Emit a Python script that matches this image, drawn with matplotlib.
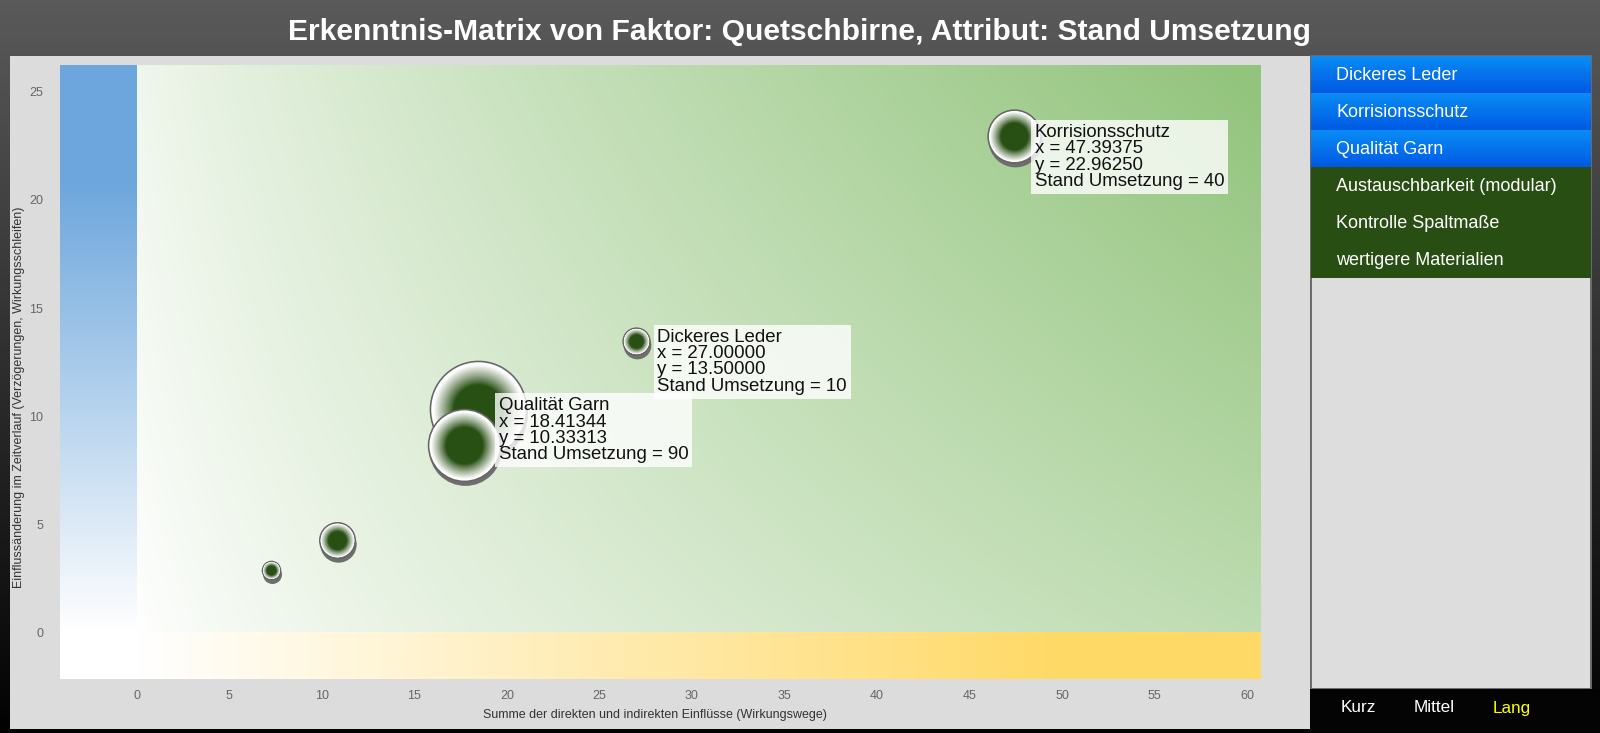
import numpy as np
import matplotlib
matplotlib.use("Agg")
import matplotlib.pyplot as plt
from matplotlib import transforms
from matplotlib.patches import Rectangle

plt.rcParams['font.family'] = ['Liberation Sans', 'DejaVu Sans']

W, H, DPI = 1600, 733, 100
PT = 72.0 / DPI  # pixels -> points

TITLE = "Erkenntnis-Matrix von Faktor: Quetschbirne, Attribut: Stand Umsetzung"
X_LABEL = "Summe der direkten und indirekten Einflüsse (Wirkungswege)"
Y_LABEL = "Einflussänderung im Zeitverlauf (Verzögerungen, Wirkungsschleifen)"
ATTR = "Stand Umsetzung"

# bubble data (series order as in the legend)
names = ["Dickeres Leder", "Korrisionsschutz", "Qualität Garn",
         "Austauschbarkeit (modular)", "Kontrolle Spaltmaße", "wertigere Materialien"]
x_vals = [27.0, 47.39375, 18.41344, 17.70, 10.80, 7.23]
y_vals = [13.5, 22.9625, 10.33313, 8.66, 4.30, 2.89]
z_vals = [10, 40, 90, 62, 20, 0]
labelled = [True, True, True, False, False, False]

x_ticks = [0, 5, 10, 15, 20, 25, 30, 35, 40, 45, 50, 55, 60]
y_ticks = [0, 5, 10, 15, 20, 25]
buttons = ["Kurz", "Mittel", "Lang"]
active_button = "Lang"

GREEN_BG = np.array([146, 196, 124]) / 255
BLUE_BG = np.array([108, 166, 220]) / 255
YELLOW_BG = np.array([255, 217, 102]) / 255
WHITE = np.array([1.0, 1.0, 1.0])
BUBBLE_GREEN = np.array([40, 80, 20]) / 255


def px_left(x):
    return x / W


def px_bottom(y):
    return 1 - y / H


def bubble_radius(z):
    return 9 + 0.434 * z


def draw_bubble(ax, x, y, r):
    shadow = transforms.offset_copy(ax.transData, fig=ax.figure, x=1, y=-4, units='dots')
    ax.scatter([x], [y], s=(2 * (r + 0.5) * PT) ** 2, color='#6e6e6e', lw=0,
               transform=shadow, zorder=3)
    ax.scatter([x], [y], s=(2 * r * PT) ** 2, color='white', edgecolors='#666666',
               linewidths=1.6 * PT, zorder=3)
    for f in np.linspace(0.95, 0.52, 30):
        w = np.clip((f - 0.52) / 0.42, 0, 1) ** 0.9
        c = (1 - w) * BUBBLE_GREEN + w * WHITE
        ax.scatter([x], [y], s=(2 * r * f * PT) ** 2, color=c, lw=0, zorder=3)


fig = plt.figure(figsize=(W / DPI, H / DPI), dpi=DPI)

# page background
bg = fig.add_axes([0, 0, 1, 1])
bg.set_xlim(0, W)
bg.set_ylim(H, 0)
bg.axis('off')
shade = np.linspace(0x5a, 0x02, 200) / 255
grad = np.repeat(shade[:, None, None], 3, axis=2)
bg.imshow(grad, extent=[0, W, H, 0], aspect='auto', zorder=0)
bg.add_patch(Rectangle((10, 56), 1300, 673, fc='#dcdcdc', ec='none', zorder=1))
bg.add_patch(Rectangle((1310.5, 56), 280, 633, fc='#dddddd', ec='#6b6b6b', lw=1.4, zorder=1))

# legend entries
row_h = 37
for i, name in enumerate(names):
    top = 56 + i * row_h
    if labelled[i]:
        col = np.linspace([10, 140, 245], [0, 90, 228], 40) / 255
        bg.imshow(col[:, None, :], extent=[1311, 1591, top + row_h, top], aspect='auto', zorder=2)
    else:
        bg.add_patch(Rectangle((1311, top), 280, row_h, fc='#284e14', ec='none', zorder=2))
    bg.text(1336, top + row_h / 2 + 1, name, color='white', fontsize=13, va='center', ha='left', zorder=3)

bg.add_patch(Rectangle((1310, 689), 290, 44, fc='#040404', ec='none', zorder=1))
for b, cx in zip(buttons, [1358, 1434, 1512]):
    bg.text(cx, 708, b, color='#ffff00' if b == active_button else 'white',
            fontsize=12.3, ha='center', va='center', zorder=3)

bg.text(799, 40, TITLE, color='white', fontsize=21.6, fontweight='bold',
        ha='center', va='baseline', zorder=3)

# plot area
ax = fig.add_axes([px_left(60), px_bottom(679), 1200 / W, (679 - 65) / H])
xlim = (-4.15, 60.7)
ylim = (-2.14, 26.23)
ax.set_xlim(*xlim)
ax.set_ylim(*ylim)
ax.set_facecolor('white')

gx = np.linspace(0, xlim[1], 300)
gy = np.linspace(0, ylim[1], 150)
U, V = np.meshgrid(gx / 60, gy / 26)
t = np.clip(0.495 * U + 0.073 * V + 0.432 * U * V, 0, 1) ** 0.75
green = (1 - t)[..., None] * WHITE + t[..., None] * GREEN_BG
ax.imshow(green, extent=[0, xlim[1], 0, ylim[1]], origin='lower', aspect='auto',
          interpolation='bilinear', zorder=0)

tb = np.clip(gy / 21, 0, 1)
blue = (1 - tb)[:, None] * WHITE + tb[:, None] * BLUE_BG
ax.imshow(blue[:, None, :], extent=[xlim[0], 0, 0, ylim[1]], origin='lower', aspect='auto',
          interpolation='bilinear', zorder=0)

ty = np.clip(gx / 50, 0, 1)
yellow = (1 - ty)[:, None] * WHITE + ty[:, None] * YELLOW_BG
ax.imshow(yellow[None, :, :], extent=[0, xlim[1], ylim[0], 0], origin='lower', aspect='auto',
          interpolation='bilinear', zorder=0)

for x, y, z in zip(x_vals, y_vals, z_vals):
    draw_bubble(ax, x, y, bubble_radius(z))

for name, x, y, z, lab in zip(names, x_vals, y_vals, z_vals, labelled):
    if not lab:
        continue
    txt = f"{name}\nx = {x:.5f}\ny = {y:.5f}\n{ATTR} = {z}"
    ax.annotate(txt, xy=(x, y), xytext=(21, 12), textcoords='offset pixels',
                ha='left', va='top', fontsize=13.4, linespacing=0.96, color='#111111',
                bbox=dict(boxstyle='square,pad=0.2', fc='white', ec='none', alpha=0.8),
                zorder=20)

ax.set_xticks(x_ticks)
ax.set_yticks(y_ticks)
ax.tick_params(length=0, labelsize=9, labelcolor='#666666')
ax.tick_params(axis='y', pad=12)
ax.tick_params(axis='x', pad=8)
for s in ax.spines.values():
    s.set_visible(False)

fig.text(px_left(655), px_bottom(715), X_LABEL, fontsize=9, color='#333333', ha='center', va='center')
fig.text(px_left(19.5), px_bottom(397), Y_LABEL, fontsize=9, color='#333333', ha='center',
         va='center', rotation=90)

fig.savefig("out.png", dpi=DPI)
